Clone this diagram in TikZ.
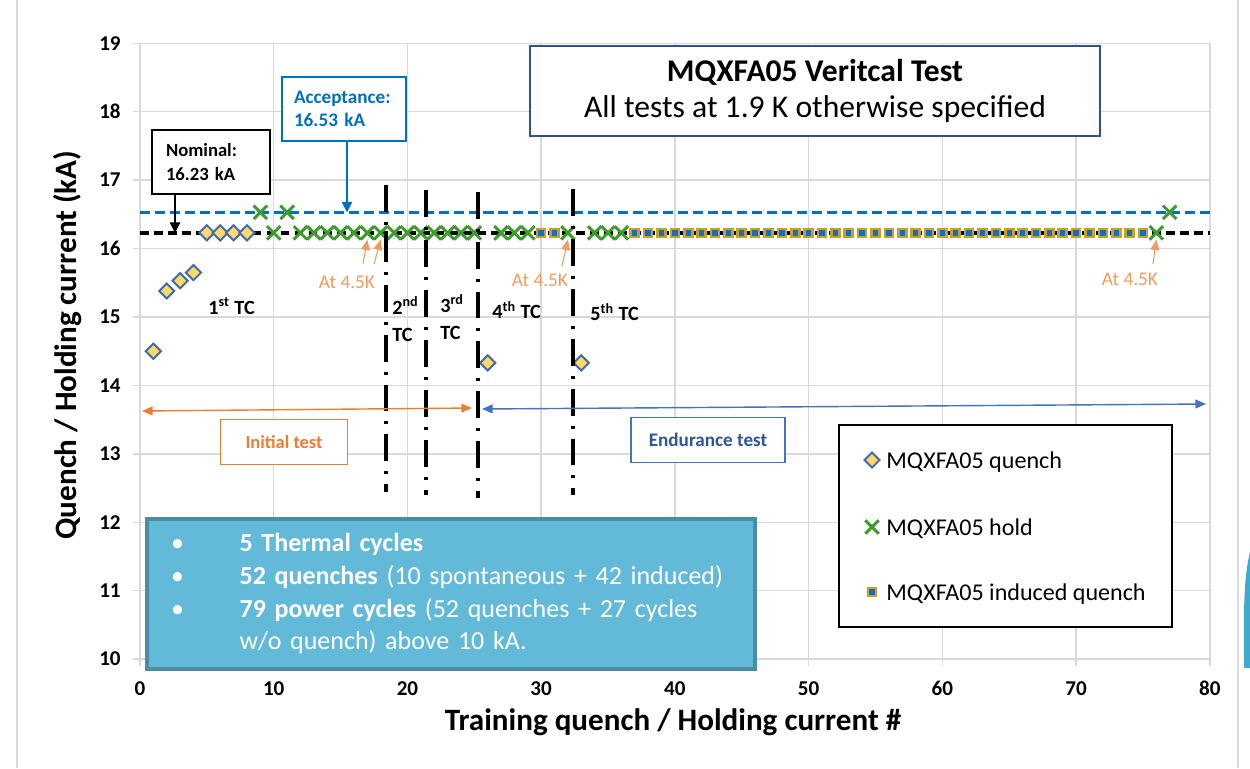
\documentclass[tikz,border=0pt]{standalone}
\usepackage{fontspec}
\setmainfont{Carlito}
\usetikzlibrary{shapes.geometric,shapes.misc,arrows.meta}
\definecolor{gridc}{HTML}{D9D9D9}
\definecolor{accblue}{HTML}{0070C0}
\definecolor{orng}{HTML}{ED7D31}
\definecolor{lorng}{HTML}{F29B5E}
\definecolor{endblue}{HTML}{4472C4}
\definecolor{endtxt}{HTML}{2F5597}
\definecolor{titleblue}{HTML}{2F528F}
\definecolor{infofill}{HTML}{63B9D8}
\definecolor{infoborder}{HTML}{4A8CA3}
\definecolor{dmdfill}{HTML}{FFD966}
\definecolor{dmdedge}{HTML}{3E68B2}
\definecolor{holdgreen}{HTML}{3E9B2E}
\definecolor{sqfill}{HTML}{0F6FC6}
\definecolor{sqedge}{HTML}{C9A021}
\definecolor{rightblue}{HTML}{3FA9D0}
\tikzset{
  gridline/.style={draw=gridc, line width=0.85pt},
  ticklab/.style={font=\fontsize{12}{14}\selectfont\bfseries, inner sep=0pt},
  axtitle/.style={font=\fontsize{17.7}{20}\selectfont\bfseries, inner sep=0pt},
  dmd/.style={diamond, draw=dmdedge, fill=dmdfill, line width=1.1pt, minimum size=0.32cm, inner sep=0pt},
  hold/.style={cross out, draw=holdgreen, line width=1.7pt, minimum size=0.21cm, inner sep=0pt},
  indq/.style={rectangle, draw=sqedge, fill=sqfill, line width=1.5pt, minimum size=0.16cm, inner sep=0pt},
  tcline/.style={draw=black, line width=2pt, dash pattern=on 15.3pt off 5.7pt on 1.7pt off 5.7pt},
  tclab/.style={font=\fontsize{11.5}{15.3}\selectfont\bfseries, align=left, inner sep=0pt},
  warm/.style={text=lorng, font=\fontsize{11}{13}\selectfont, inner sep=0pt},
  warmarrow/.style={draw=lorng, line width=0.6pt, -{Triangle[length=6pt,width=5pt]}},
  nombox/.style={draw=black, fill=white, line width=1.1pt, minimum width=2.36cm, minimum height=1.28cm,
    inner xsep=0.28cm, inner ysep=0.05cm, text width=1.8cm, align=left,
    font=\fontsize{10.6}{13.6}\selectfont\bfseries},
  accbox/.style={draw=accblue, fill=white, line width=1.1pt, minimum width=2.48cm, minimum height=1.28cm,
    inner xsep=0.24cm, inner ysep=0.05cm, text width=2.0cm, align=left, text=accblue,
    font=\fontsize{10.9}{13.2}\selectfont\bfseries},
  blkarrow/.style={draw=black, line width=0.85pt, -{Triangle[length=6pt,width=6pt]}},
  accarrow/.style={draw=accblue, line width=0.85pt, -{Triangle[length=6pt,width=6pt]}},
  titlebox/.style={draw=titleblue, fill=white, line width=1.1pt, minimum width=11.4cm, minimum height=1.8cm,
    align=center, font=\fontsize{18}{20.2}\selectfont},
  legbox/.style={draw=black, fill=white, line width=0.9pt, minimum width=6.66cm, minimum height=4.04cm},
  legtext/.style={font=\fontsize{13.7}{16}\selectfont, inner sep=0pt},
  infobox/.style={draw=infoborder, fill=infofill, line width=2.3pt, minimum width=12.16cm, minimum height=3cm,
    inner xsep=0.48cm, text width=11.2cm, align=left, text=white, font=\fontsize{14.8}{18.7}\selectfont},
  initbox/.style={draw=orng, fill=white, line width=0.9pt, minimum width=2.54cm, minimum height=0.9cm,
    text=orng, font=\fontsize{10.5}{12}\selectfont\bfseries},
  endbox/.style={draw=endblue, fill=white, line width=0.9pt, minimum width=3.08cm, minimum height=0.9cm,
    text=endtxt, font=\fontsize{10.9}{12}\selectfont\bfseries},
  initarrow/.style={draw=orng, line width=0.8pt, {Triangle[length=6pt,width=5pt]}-{Triangle[length=6pt,width=5pt]}},
  endarrow/.style={draw=endblue, line width=0.8pt, {Triangle[length=6pt,width=5pt]}-{Triangle[length=6pt,width=5pt]}}
}
\begin{document}
\begin{tikzpicture}[x=0.02cm, y=-0.02cm]
\useasboundingbox (0,0) rectangle (1250,768);
\fill[white] (0,0) rectangle (1250,768);
\draw[gridc, line width=0.8pt] (17,0) -- (17,768);
\draw[gridc, line width=0.8pt] (1238,0) -- (1238,768);
\fill[rightblue] (1250,552) .. controls (1246,568) and (1244,590) .. (1244,620) -- (1244,668) -- (1250,668) -- cycle;

\begin{scope}[shift={(140,1343.4)}, x={(0.2675cm,0cm)}, y={(0cm,1.3688cm)}]
  % grid
  \foreach \v in {10,...,19} \draw[gridline] (-0.5,\v) -- (80,\v);
  \foreach \u in {0,10,...,80} \draw[gridline] (\u,9.9) -- (\u,19);
  % tick labels
  \foreach \v in {10,...,19} \node[ticklab, anchor=east] (yt\v) at (-1.42,\v) {\v};
  \foreach \u in {0,10,...,80} \node[ticklab, anchor=north] (xt\u) at (\u,9.68) {\u};
  % reference lines
  \draw[accblue, line width=2pt, dash pattern=on 5.7pt off 2.8pt] (0,16.53) -- (80,16.53);
  \draw[black, line width=2pt, dash pattern=on 5pt off 3pt] (0,16.23) -- (80,16.23);
  % quench markers
  \foreach \n/\a/\b in {1/1/14.5,2/2/15.38,3/3/15.53,4/4/15.65,5/5/16.23,6/6/16.23,7/7/16.23,8/8/16.23,9/26/14.33,10/33/14.33}
    \node[dmd] (q\n) at (\a,\b) {};
  % hold markers
  \foreach \a in {9,11,77} \node[hold] (h\a) at (\a,16.53) {};
  \foreach \a in {10} \node[hold] (h\a) at (\a,16.23) {};
  \foreach \a in {12,...,25} \node[hold] (h\a) at (\a,16.23) {};
  \foreach \a in {27,28,29,32,34,35,36,76} \node[hold] (h\a) at (\a,16.23) {};
  % induced quench markers
  \foreach \a in {30,31} \node[indq] (s\a) at (\a,16.23) {};
  \foreach \a in {37,...,75} \node[indq] (s\a) at (\a,16.23) {};
  % thermal cycle separators
  \coordinate (v1t) at (18.39,16.93); \coordinate (v1b) at (18.39,12.44);
  \coordinate (v2t) at (21.38,16.85); \coordinate (v2b) at (21.38,12.40);
  \coordinate (v3t) at (25.27,16.83); \coordinate (v3b) at (25.27,12.35);
  \coordinate (v4t) at (32.37,16.87); \coordinate (v4b) at (32.37,12.40);
  \draw[tcline] (v1t) -- (v1b);
  \draw[tcline] (v2t) -- (v2b);
  \draw[tcline] (v3t) -- (v3b);
  \draw[tcline] (v4t) -- (v4b);
  \coordinate (nomtip) at (2.62,16.23);
  \coordinate (acctip) at (15.48,16.53);
\end{scope}

% annotation boxes
\node[nombox] (nom) at (211,162) {Nominal:\\16.23 kA};
\draw[blkarrow] (nom.south -| nomtip) -- (nomtip);
\node[accbox] (acc) at (344,109) {Acceptance:\\16.53 kA};
\draw[accarrow] (acc.south -| acctip) -- (acctip);

\node[titlebox] (title) at (815,91) {\textbf{MQXFA05 Veritcal Test}\\All tests at 1.9 K otherwise specified};

% TC labels
\node[tclab, anchor=west] (tc1) at (208,306) {1\textsuperscript{st} TC};
\node[tclab, anchor=west] (tc2) at (392,319) {2\textsuperscript{nd}\\TC};
\node[tclab, anchor=west] (tc3) at (440,317) {3\textsuperscript{rd}\\TC};
\node[tclab, anchor=west] (tc4) at (492,310) {4\textsuperscript{th} TC};
\node[tclab, anchor=west] (tc5) at (590,312) {5\textsuperscript{th} TC};

% At 4.5K
\node[warm] (w1) at (347,282) {At 4.5K};
\node[warm] (w2) at (540,280) {At 4.5K};
\node[warm] (w3) at (1130,279) {At 4.5K};
\coordinate (w1a) at (363,264);
\coordinate (w1b) at (374,264);
\coordinate (w2a) at (562,266);
\coordinate (w3a) at (1153,264);
\draw[warmarrow] (w1a) -- (h17.south);
\draw[warmarrow] (w1b) -- (h18.south);
\draw[warmarrow] (w2a) -- (h32.south);
\draw[warmarrow] (w3a) -- (h76.south);

% test phases
\coordinate (iL) at (142,411);
\coordinate (iR) at (472,408);
\draw[initarrow] (iL) -- (iR);
\coordinate (eL) at (482,409);
\coordinate (eR) at (1206,404);
\draw[endarrow] (eL) -- (eR);
\node[initbox] (init) at (284,442) {Initial test};
\node[endbox] (endu) at (708,440) {Endurance test};

% legend
\node[legbox] (legend) at (1005.5,526) {};
\node[dmd] (lq) at (872,460) {};
\node[legtext, anchor=base west] (lqt) at (886,468) {MQXFA05 quench};
\node[hold] (lh) at (872,527) {};
\node[legtext, anchor=base west] (lht) at (886,535) {MQXFA05 hold};
\node[indq] (ls) at (872,592) {};
\node[legtext, anchor=base west] (lst) at (886,600) {MQXFA05 induced quench};

% info box
\node[infobox] (info) at (451,594) {%
  \begin{tabular}{@{}p{39pt}@{}l@{}}
  \textbullet & \textbf{5 Thermal cycles}\\
  \textbullet & \textbf{52 quenches} (10 spontaneous + 42 induced)\\
  \textbullet & \textbf{79 power cycles} (52 quenches + 27 cycles\\
   & w/o quench) above 10 kA.
  \end{tabular}};

% axis titles
\node[axtitle, rotate=90] (ytitle) at (68,345) {Quench / Holding current (kA)};
\node[axtitle] (xtitle) at (673,722) {Training quench / Holding current \#};
\end{tikzpicture}
\end{document}
